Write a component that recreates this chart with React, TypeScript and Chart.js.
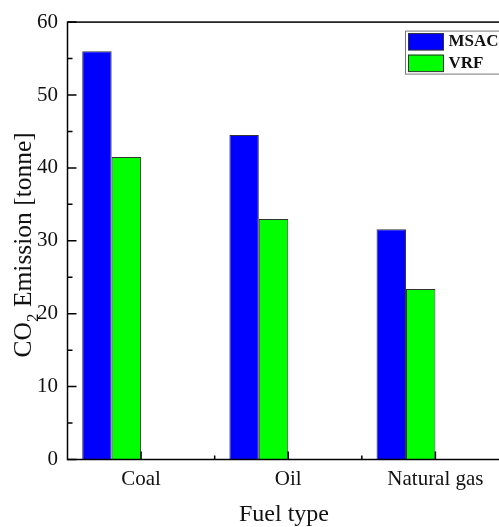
import React, { useEffect, useRef } from 'react';
import { Chart, registerables } from 'chart.js';

Chart.register(...registerables);

const categories = ['Coal', 'Oil', 'Natural gas'];
const msacValues = [56.0, 44.5, 31.6];
const vrfValues = [41.5, 33.0, 23.4];
const spacerValues = [0, 0, 0];
const yTicks = [0, 10, 20, 30, 40, 50, 60];
const seriesNames = ['MSAC', 'VRF'];
const seriesColors = ['#0000ff', '#00ff00'];
const xTitle = 'Fuel type';
const yTitleMain = 'CO';
const yTitleSub = '2';
const yTitleRest = ' Emission [tonne]';

const SERIF = "'Liberation Serif', 'Times New Roman', serif";

const decorPlugin = {
  id: 'decor',
  afterDatasetsDraw(chart: any) {
    const { ctx, chartArea: a, scales } = chart;
    const xs = scales.x;
    const ys = scales.y;
    ctx.save();
    // frame
    ctx.strokeStyle = '#000';
    ctx.lineWidth = 1.5;
    ctx.strokeRect(a.left, a.top, a.right - a.left, a.bottom - a.top);
    // y ticks (inward)
    ctx.beginPath();
    for (let i = 0; i < yTicks.length; i++) {
      const py = ys.getPixelForValue(yTicks[i]);
      ctx.moveTo(a.left, py);
      ctx.lineTo(a.left + 9, py);
      if (i < yTicks.length - 1) {
        const pm = ys.getPixelForValue((yTicks[i] + yTicks[i + 1]) / 2);
        ctx.moveTo(a.left, pm);
        ctx.lineTo(a.left + 5, pm);
      }
    }
    // x ticks (inward)
    for (let i = 0; i < categories.length; i++) {
      const px = xs.getPixelForValue(i);
      ctx.moveTo(px, a.bottom);
      ctx.lineTo(px, a.bottom - 8);
      if (i < categories.length - 1) {
        const mx = (px + xs.getPixelForValue(i + 1)) / 2;
        ctx.moveTo(mx, a.bottom);
        ctx.lineTo(mx, a.bottom - 4);
      }
    }
    ctx.stroke();
    ctx.restore();
  },
  afterDraw(chart: any) {
    const { ctx, chartArea: a } = chart;
    ctx.save();
    // legend
    const lx = a.right - 104;
    const ly = a.top + 8.5;
    ctx.strokeStyle = '#777';
    ctx.lineWidth = 1;
    ctx.strokeRect(lx + 0.5, ly + 0.5, 130, 43);
    ctx.font = `bold 17px ${SERIF}`;
    ctx.textAlign = 'left';
    ctx.textBaseline = 'middle';
    for (let i = 0; i < seriesNames.length; i++) {
      const sy = ly + 2.5 + i * 21.5;
      ctx.fillStyle = seriesColors[i];
      ctx.fillRect(lx + 3, sy, 35.5, 17);
      ctx.strokeStyle = '#333';
      ctx.strokeRect(lx + 3.5, sy + 0.5, 35, 16.5);
      ctx.fillStyle = '#111';
      ctx.fillText(seriesNames[i], lx + 43.5, sy + 9);
    }
    // x title
    ctx.font = `24px ${SERIF}`;
    ctx.textAlign = 'center';
    ctx.textBaseline = 'alphabetic';
    ctx.fillStyle = '#111';
    ctx.fillText(xTitle, 284, 520.5);
    // y title (rotated, with subscript)
    const mainFont = `25.5px ${SERIF}`;
    const subFont = `17px ${SERIF}`;
    ctx.font = mainFont;
    const w1 = ctx.measureText(yTitleMain).width;
    const w3 = ctx.measureText(yTitleRest).width;
    ctx.font = subFont;
    const w2 = ctx.measureText(yTitleSub).width;
    const total = w1 + w2 + w3;
    const cy = (a.top + a.bottom) / 2 + 4;
    ctx.translate(31, cy);
    ctx.rotate(-Math.PI / 2);
    ctx.textAlign = 'left';
    ctx.font = mainFont;
    ctx.fillText(yTitleMain, -total / 2, 0);
    ctx.font = subFont;
    ctx.fillText(yTitleSub, -total / 2 + w1, 7);
    ctx.font = mainFont;
    ctx.fillText(yTitleRest, -total / 2 + w1 + w2, 0);
    ctx.restore();
  },
};

export default function App() {
  const ref = useRef<HTMLCanvasElement>(null);
  useEffect(() => {
    const canvas = ref.current;
    if (!canvas) return;
    const chart = new Chart(canvas, {
      type: 'bar',
      data: {
        labels: categories,
        datasets: [
          {
            label: seriesNames[0],
            data: msacValues,
            backgroundColor: seriesColors[0],
            borderColor: '#333',
            borderWidth: 1,
          },
          {
            label: seriesNames[1],
            data: vrfValues,
            backgroundColor: seriesColors[1],
            borderColor: '#333',
            borderWidth: 1,
          },
          { label: '', data: spacerValues, backgroundColor: 'rgba(0,0,0,0)', borderWidth: 0 },
          { label: '', data: spacerValues, backgroundColor: 'rgba(0,0,0,0)', borderWidth: 0 },
        ],
      },
      options: {
        animation: false,
        responsive: false,
        devicePixelRatio: 1,
        layout: { padding: { top: 18, left: 0, right: 1, bottom: 0 } },
        datasets: { bar: { categoryPercentage: 0.8, barPercentage: 1.0 } },
        plugins: { legend: { display: false }, tooltip: { enabled: false } },
        scales: {
          x: {
            type: 'category',
            offset: true,
            grid: { display: false, drawTicks: false },
            border: { display: false },
            ticks: { color: '#111', font: { family: SERIF, size: 21 }, padding: 7, maxRotation: 0, autoSkip: false },
            afterFit: (s: any) => { s.height = 67.5; },
          },
          y: {
            min: 0,
            max: 60,
            grid: { display: false, drawTicks: false },
            border: { display: false },
            ticks: { stepSize: 10, color: '#111', font: { family: SERIF, size: 21 }, padding: 9.5 },
            afterFit: (s: any) => { s.width = 67.5; },
          },
        },
      } as any,
      plugins: [decorPlugin],
    });
    return () => chart.destroy();
  }, []);
  return (
    <div style={{ position: 'fixed', left: 0, top: 0, width: 499, height: 527, overflow: 'hidden', background: '#fff' }}>
      <canvas ref={ref} width={510} height={527} style={{ display: 'block', width: 510, height: 527 }} />
    </div>
  );
}
